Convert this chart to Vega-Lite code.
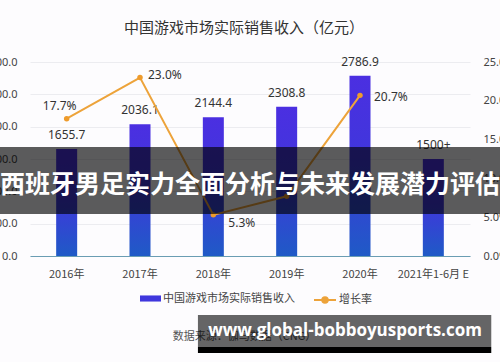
{
  "$schema": "https://vega.github.io/schema/vega-lite/v6.json",
  "width": 500,
  "height": 194,
  "autosize": {"type": "none"},
  "padding": {"left": 0, "right": 0, "top": 62, "bottom": 106},
  "background": "#fdfcfe",
  "config": {"view": {"stroke": null}, "font": "Noto Sans CJK SC"},
  "title": {"text": "中国游戏市场实际销售收入（亿元）", "frame": "group", "anchor": "middle", "fontSize": 15, "fontWeight": "normal", "color": "#333333", "offset": 20, "dx": -6, "font": "Noto Sans CJK SC"},
  "data": {"values": [
    {"year": "2016年", "revenue": 1655.7, "revenueLabel": "1655.7", "growth": 0.177},
    {"year": "2017年", "revenue": 2036.1, "revenueLabel": "2036.1", "growth": 0.230},
    {"year": "2018年", "revenue": 2144.4, "revenueLabel": "2144.4", "growth": 0.053},
    {"year": "2019年", "revenue": 2308.8, "revenueLabel": "2308.8", "growth": 0.077},
    {"year": "2020年", "revenue": 2786.9, "revenueLabel": "2786.9", "growth": 0.207},
    {"year": "2021年1-6月 E", "revenue": 1500, "revenueLabel": "1500+", "growth": null}
  ]},
  "layer": [
    {
      "layer": [
        {
          "mark": {"type": "bar", "size": 21, "color": {"gradient": "linear", "x1": 0, "y1": 0, "x2": 0, "y2": 1, "stops": [{"offset": 0, "color": "#4b2fe1"}, {"offset": 0.45, "color": "#4036dc"}, {"offset": 1, "color": "#1f5ac6"}]}},
          "encoding": {
            "x": {"field": "year", "type": "nominal", "sort": null,
              "scale": {"domain": ["2016年", "2017年", "2018年", "2019年", "2020年", "2021年1-6月 E"], "range": [30, 470], "paddingInner": 0, "paddingOuter": 0},
              "axis": {"title": null, "labelAngle": 0, "ticks": false, "domain": true, "domainColor": "#6a9db3", "domainWidth": 1.2, "labelPadding": 12, "labelFontSize": 11, "labelColor": "#444444", "labelFont": "Noto Sans CJK SC"}},
            "y": {"field": "revenue", "type": "quantitative",
              "scale": {"domain": [0, 3000], "nice": false},
              "axis": {"orient": "left", "values": [0, 500, 1000, 1500, 2000, 2500, 3000], "tickCount": 7, "format": ".1f", "title": null, "domain": false, "ticks": false, "grid": true, "gridColor": "#ececf0", "labelFontSize": 11, "labelColor": "#444444", "labelPadding": 0, "offset": -17, "labelFont": "Noto Sans", "labelOverlap": false, "labelBound": false}}
          }
        },
        {
          "mark": {"type": "bar", "size": 21},
          "encoding": {
            "x": {"field": "year", "type": "nominal"},
            "y": {"datum": 0, "type": "quantitative"},
            "fill": {"datum": "中国游戏市场实际销售收入", "type": "nominal",
              "scale": {"range": ["#3f37dd"]},
              "legend": {"orient": "none", "legendX": 140, "legendY": 226, "title": null, "symbolType": "M-1,-0.29H1V0.29H-1Z", "symbolSize": 441, "symbolStrokeWidth": 0, "labelFontSize": 11, "labelColor": "#444444", "labelFont": "Noto Sans CJK SC", "labelOffset": 2, "padding": 0}}
          }
        },
        {
          "mark": {"type": "text", "dy": -14, "fontSize": 12, "color": "#333333", "font": "Noto Sans"},
          "encoding": {
            "x": {"field": "year", "type": "nominal"},
            "y": {"field": "revenue", "type": "quantitative"},
            "text": {"field": "revenueLabel"}
          }
        }
      ]
    },
    {
      "transform": [{"filter": "datum.growth != null"}],
      "layer": [
        {
          "mark": {"type": "line", "strokeWidth": 2},
          "encoding": {
            "x": {"field": "year", "type": "nominal"},
            "y": {"field": "growth", "type": "quantitative",
              "scale": {"domain": [0, 0.25], "nice": false},
              "axis": {"orient": "right", "values": [0, 0.05, 0.1, 0.15, 0.2, 0.25], "tickCount": 6, "format": ".1%", "title": null, "domain": false, "ticks": false, "grid": false, "labelFontSize": 11, "labelColor": "#444444", "labelPadding": 0, "offset": -17, "labelFont": "Noto Sans", "labelOverlap": false, "labelBound": false}},
            "stroke": {"datum": "增长率", "type": "nominal", "scale": {"range": ["#eda33a"]},
              "legend": {"orient": "none", "legendX": 313, "legendY": 226, "title": null, "symbolType": "M-1,0H1M0.25,0A0.25,0.25,0,1,1,-0.25,0A0.25,0.25,0,1,1,0.25,0", "symbolSize": 484, "symbolStrokeWidth": 2, "symbolFillColor": "#eda33a", "labelFontSize": 11, "labelColor": "#444444", "labelFont": "Noto Sans CJK SC", "labelOffset": 2, "padding": 0}}
          }
        },
        {
          "mark": {"type": "point", "filled": true, "size": 30, "color": "#ee9b2c", "opacity": 1},
          "encoding": {
            "x": {"field": "year", "type": "nominal"},
            "y": {"field": "growth", "type": "quantitative"}
          }
        },
        {
          "transform": [{"filter": "datum.year == '2016年'"}],
          "mark": {"type": "text", "align": "center", "dx": -7, "dy": -13, "fontSize": 12, "color": "#333333", "font": "Noto Sans"},
          "encoding": {
            "x": {"field": "year", "type": "nominal"},
            "y": {"field": "growth", "type": "quantitative"},
            "text": {"field": "growth", "type": "quantitative", "format": ".1%"}
          }
        },
        {
          "transform": [{"filter": "datum.year == '2017年'"}],
          "mark": {"type": "text", "align": "left", "dx": 8, "dy": -3, "fontSize": 12, "color": "#333333", "font": "Noto Sans"},
          "encoding": {
            "x": {"field": "year", "type": "nominal"},
            "y": {"field": "growth", "type": "quantitative"},
            "text": {"field": "growth", "type": "quantitative", "format": ".1%"}
          }
        },
        {
          "transform": [{"filter": "datum.year == '2018年'"}],
          "mark": {"type": "text", "align": "left", "dx": 15, "dy": 8, "fontSize": 12, "color": "#333333", "font": "Noto Sans"},
          "encoding": {
            "x": {"field": "year", "type": "nominal"},
            "y": {"field": "growth", "type": "quantitative"},
            "text": {"field": "growth", "type": "quantitative", "format": ".1%"}
          }
        },
        {
          "transform": [{"filter": "datum.year == '2020年'"}],
          "mark": {"type": "text", "align": "left", "dx": 14, "dy": 2, "fontSize": 12, "color": "#333333", "font": "Noto Sans"},
          "encoding": {
            "x": {"field": "year", "type": "nominal"},
            "y": {"field": "growth", "type": "quantitative"},
            "text": {"field": "growth", "type": "quantitative", "format": ".1%"}
          }
        }
      ]
    },
    {
      "data": {"values": [{}]},
      "layer": [
        {
          "mark": {"type": "rect", "color": "#000000", "opacity": 0.64},
          "encoding": {
            "y": {"datum": 1685.6, "type": "quantitative", "scale": {"domain": [0, 3000], "nice": false}, "axis": null},
            "y2": {"datum": 649.5}
          }
        },
        {
          "mark": {"type": "text", "text": "西班牙男足实力全面分析与未来发展潜力评估", "color": "#ffffff", "fontSize": 25, "fontWeight": "bold", "font": "Noto Sans CJK SC", "baseline": "middle", "align": "center"},
          "encoding": {
            "y": {"datum": 1098, "type": "quantitative"}
          }
        },
        {
          "mark": {"type": "text", "text": "数据来源：伽马数据（CNG）", "align": "left", "baseline": "middle", "dx": -4, "fontSize": 11, "color": "#555555", "font": "Noto Sans CJK SC"},
          "encoding": {
            "x": {"datum": "2018年", "type": "nominal", "bandPosition": 0},
            "y": {"datum": -1252, "type": "quantitative"}
          }
        },
        {
          "mark": {"type": "rect", "color": "#000000", "opacity": 0.6},
          "encoding": {
            "x": {"datum": "2018年", "type": "nominal", "bandPosition": 0.29},
            "x2": {"datum": "2021年1-6月 E", "bandPosition": 1.29},
            "y": {"datum": -912, "type": "quantitative"},
            "y2": {"datum": -1407}
          }
        },
        {
          "mark": {"type": "rect", "color": "#000000", "opacity": 1},
          "encoding": {
            "x": {"datum": "2018年", "type": "nominal", "bandPosition": 0.29},
            "x2": {"datum": "2021年1-6月 E", "bandPosition": 1.29},
            "y": {"datum": -1407, "type": "quantitative"},
            "y2": {"datum": -1500}
          }
        },
        {
          "mark": {"type": "text", "text": "www.global-bobboyusports.com", "color": "#ffffff", "fontSize": 17, "fontWeight": "bold", "font": "Open Sans", "baseline": "middle", "align": "center", "dx": -15},
          "encoding": {
            "x": {"datum": "2020年", "type": "nominal"},
            "y": {"datum": -1160, "type": "quantitative"}
          }
        }
      ]
    }
  ],
  "resolve": {"scale": {"y": "independent", "fill": "independent", "stroke": "independent"}}
}
